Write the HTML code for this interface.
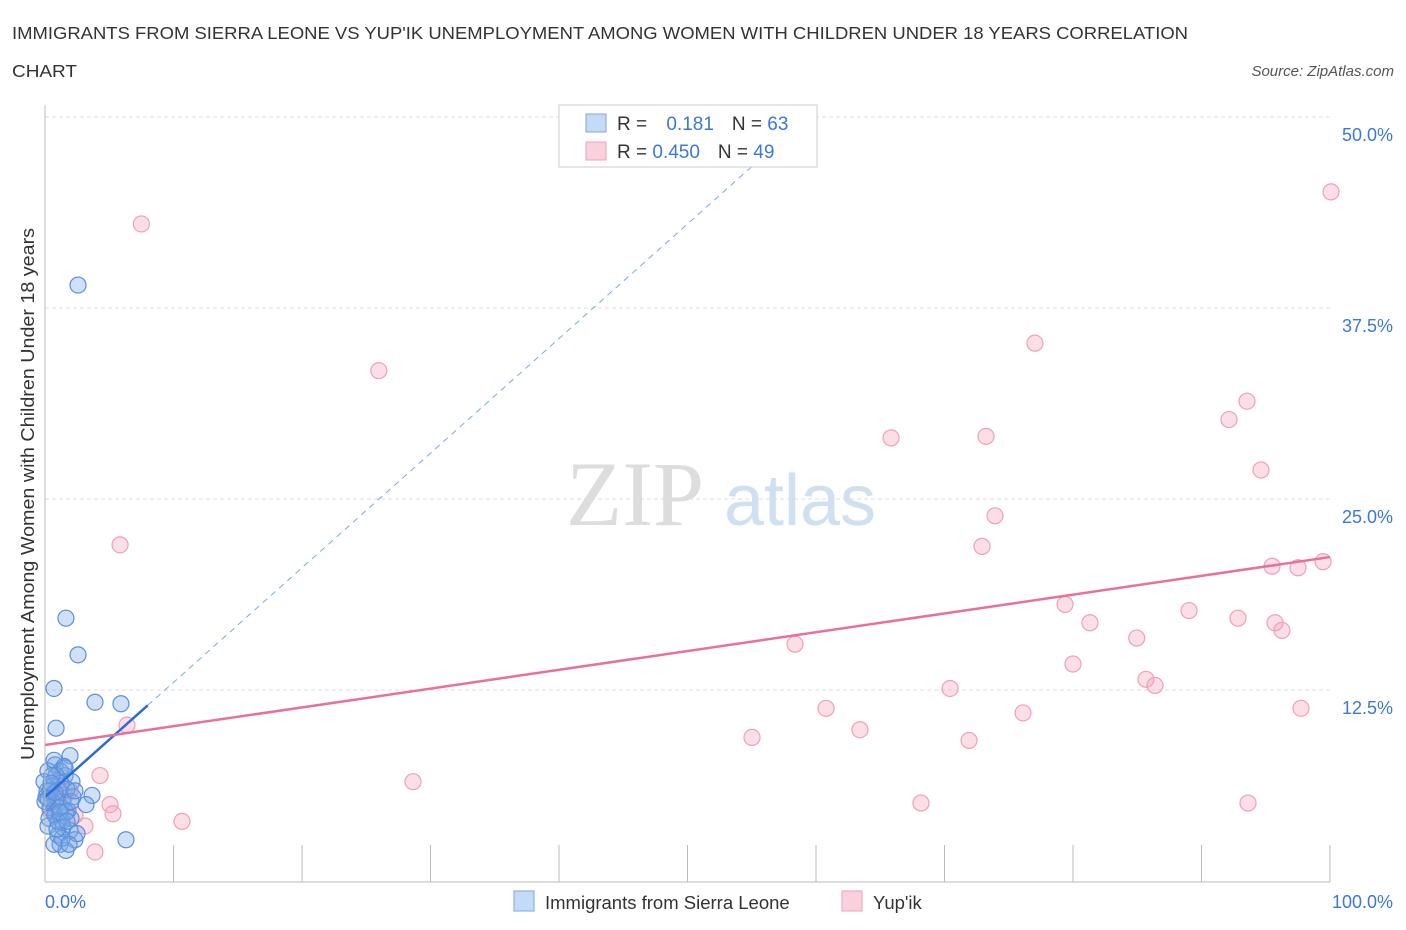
<!DOCTYPE html>
<html><head><meta charset="utf-8"><style>
body{margin:0;background:#fff;font-family:"Liberation Sans",sans-serif;}
#wrap{position:relative;width:1406px;height:930px;overflow:hidden}
</style></head><body><div id="wrap">
<svg id="svg" width="1406" height="930" xmlns="http://www.w3.org/2000/svg">
<text x="12" y="39" font-size="17.5" fill="#333" textLength="1176" lengthAdjust="spacingAndGlyphs">IMMIGRANTS FROM SIERRA LEONE VS YUP'IK UNEMPLOYMENT AMONG WOMEN WITH CHILDREN UNDER 18 YEARS CORRELATION</text>
<text x="12" y="77" font-size="17.5" fill="#333" textLength="65" lengthAdjust="spacingAndGlyphs">CHART</text>
<text x="1394" y="76" font-size="15" fill="#555" font-style="italic" text-anchor="end">Source: ZipAtlas.com</text>
<text x="34" y="494" font-size="18" fill="#333" text-anchor="middle" textLength="532" lengthAdjust="spacingAndGlyphs" transform="rotate(-90 34 494)">Unemployment Among Women with Children Under 18 years</text>
<text x="635" y="525" font-size="92" fill="#ddd" font-family="Liberation Serif,serif" text-anchor="middle">ZIP</text>
<text x="800" y="525" font-size="72" fill="#cfe0f3" text-anchor="middle">atlas</text>
<g id="grid"></g><g id="pts"></g><g id="lines"></g>
<line x1="45" y1="105" x2="45" y2="882" stroke="#bbb"/>
<line x1="45" y1="882" x2="1330" y2="882" stroke="#bbb"/>
<text x="45" y="908" font-size="18" fill="#3b78d8">0.0%</text>
<text x="1393" y="908" font-size="18" fill="#3b78d8" text-anchor="end">100.0%</text>
<g>
<rect x="559" y="105" width="258" height="62" fill="#fff" stroke="#ccc"/>
<rect x="586" y="114" width="20" height="18" fill="#c5daf7" stroke="#7aa7e6"/>
<rect x="586" y="142" width="20" height="18" fill="#fbd0dd" stroke="#eea0b8"/>
<text x="617" y="130" font-size="19" fill="#333">R = <tspan fill="#3b78d8" dx="14">0.181</tspan><tspan dx="18" fill="#333">N = </tspan><tspan fill="#3b78d8">63</tspan></text>
<text x="617" y="158" font-size="19" fill="#333">R = <tspan fill="#3b78d8">0.450</tspan><tspan dx="18" fill="#333">N = </tspan><tspan fill="#3b78d8">49</tspan></text>
</g>
<g>
<rect x="514" y="891" width="20" height="20" fill="#c5daf7" stroke="#7aa7e6"/>
<text x="545" y="909" font-size="18.5" fill="#333">Immigrants from Sierra Leone</text>
<rect x="842" y="891" width="20" height="20" fill="#fbd0dd" stroke="#eea0b8"/>
<text x="873" y="909" font-size="18.5" fill="#333">Yup'ik</text>
</g>
</svg></div>
<script>
const yTicks=[12.5,25,37.5,50];
const yTickLabels=["12.5%","25.0%","37.5%","50.0%"];
const xTicks=[10,20,30,40,50,60,70,80,90,100];
const pinkX=[7.5,25.98,100.08,77.04,93.54,92.14,65.84,73.23,94.63,73.93,72.92,5.84,95.49,97.51,99.46,79.38,89.03,81.32,92.84,95.72,84.96,96.26,58.37,80.0,70.43,85.68,86.38,60.78,76.11,97.74,63.42,6.38,55.02,71.91,4.28,28.64,68.17,93.62,5.06,5.29,10.66,3.11,3.89,2.33,1.56,1.17,0.78,1.95,0.39];
const pinkY=[43.0,33.4,45.1,35.2,31.4,30.2,29.0,29.1,26.9,23.9,21.9,22.0,20.6,20.5,20.9,18.1,17.7,16.9,17.2,16.9,15.9,16.4,15.5,14.2,12.6,13.2,12.8,11.3,11.0,11.3,9.9,10.2,9.4,9.2,6.9,6.5,5.1,5.1,5.0,4.4,3.9,3.6,1.9,4.3,5.6,6.6,5.3,5.9,4.6];
const blueX=[2.57,1.63,2.57,0.7,3.89,5.91,0.86,1.95,6.3,3.66,3.19,0.78,1.17,0.23,1.56,2.1,0.54,1.01,0.08,1.4,0.39,1.79,0.78,1.32,0.23,1.95,1.01,2.33,1.17,1.63,0.54,0.16,0.7,1.48,-0.08,0.62,0.93,0.31,1.25,2.18,1.71,0.86,2.02,1.4,0.39,1.09,0,0.54,1.63,1.01,2.49,0.7,1.32,1.87,0.23,0.78,1.56,1.17,2.02,2.33,0.47,0.93,1.71];
const blueY=[39.0,17.2,14.8,12.6,11.7,11.6,10.0,8.2,2.7,5.6,5.0,7.6,7.2,7.2,6.9,6.5,6.2,5.9,5.5,5.2,4.8,4.6,4.3,3.9,3.6,3.3,3.0,2.7,2.4,2.0,5.2,5.9,7.9,7.5,6.5,4.6,5.4,4.1,6.4,5.5,6.0,6.9,4.1,3.5,5.9,4.8,5.2,6.9,4.5,3.9,3.1,2.4,2.8,2.4,5.4,5.8,7.4,4.5,5.2,5.9,6.4,3.4,3.9];
const blueLine=[5.5,11.5]; // y% at x=0 and x=8
const pinkLine=[8.9,21.2]; // y% at x=0 and x=100
const X=v=>45+v*12.85, Y=v=>881-v*191/12.5;
const NS="http://www.w3.org/2000/svg";
function mk(t,a,p){const e=document.createElementNS(NS,t);for(const k in a)e.setAttribute(k,a[k]);p.appendChild(e);return e;}
const g=document.getElementById('grid');
yTicks.forEach((t,i)=>{
 const l=mk('line',{x1:45,x2:1330,y1:Y(t),y2:Y(t),stroke:'#ddd','stroke-dasharray':'4,3'},g);
 
 
 const tx=mk('text',{x:1393,y:Y(t)+24,'font-size':18,fill:'#3b78d8','text-anchor':'end'},g);
 tx.textContent=yTickLabels[i];
 
 
});
xTicks.forEach(t=>{
 const l=mk('line',{x1:X(t),x2:X(t),y1:845,y2:882,stroke:'#bbb'},g);
 
 
});
const p=document.getElementById('pts');
pinkX.forEach((v,i)=>{
 const c=mk('circle',{cx:X(v),cy:Y(pinkY[i]),r:8,fill:'rgba(245,160,185,0.35)',stroke:'#eea0b8','stroke-width':1.2},p);
 
 
});
blueX.forEach((v,i)=>{
 const c=mk('circle',{cx:X(v),cy:Y(blueY[i]),r:8,fill:'rgba(120,165,230,0.35)',stroke:'#5a8fdc','stroke-width':1.2},p);
 
 
});
const L=document.getElementById('lines');
const bs=(blueLine[1]-blueLine[0])/8;
let e=mk('line',{x1:X(8),y1:Y(blueLine[1]),x2:X(55.6),y2:Y(blueLine[0]+bs*55.6),stroke:'#7aa7e6','stroke-width':1,'stroke-dasharray':'6,5'},L);


e=mk('line',{x1:X(0),y1:Y(blueLine[0]),x2:X(8),y2:Y(blueLine[1]),stroke:'#2a6dd8','stroke-width':2.5},L);


e=mk('line',{x1:X(0),y1:Y(pinkLine[0]),x2:X(100),y2:Y(pinkLine[1]),stroke:'#e8709a','stroke-width':2.5},L);


</script></body></html>
